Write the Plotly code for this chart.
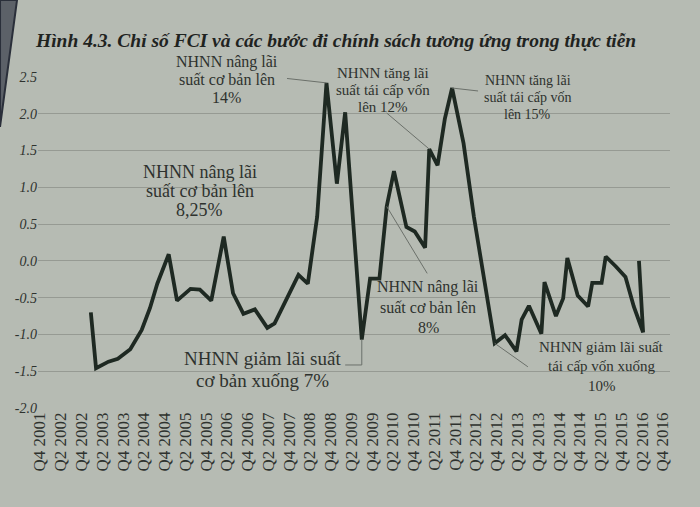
import plotly.graph_objects as go

# ---------------- data ----------------
# position along the quarterly axis (0 = Q4 2001, 1 unit = one quarter)
period_pos = [4.9, 5.4, 6.6, 7.5, 8.7, 9.8, 10.6, 11.3, 12.4, 13.2,
              14.5, 15.4, 16.5, 17.7, 18.6, 19.6, 20.7, 21.9, 22.6, 23.8,
              24.9, 25.8, 26.7, 27.6, 28.6, 29.4, 31.0, 31.8, 32.7, 33.4,
              34.1, 35.3, 36.1, 37.1, 37.5, 38.3, 39.0, 39.7, 40.8, 41.8,
              42.8, 43.8, 44.8, 45.9, 46.4, 47.1, 48.3, 48.6, 49.7, 50.4,
              50.8, 51.8, 52.8, 53.2, 54.1, 54.5, 55.5, 56.4, 57.2, 58.1, 57.7]
fci = [-0.70, -1.46, -1.37, -1.33, -1.20, -0.94, -0.64, -0.31, 0.09, -0.54,
       -0.38, -0.39, -0.54, 0.33, -0.44, -0.72, -0.66, -0.91, -0.85, -0.51,
       -0.19, -0.31, 0.60, 2.42, 1.05, 2.02, -1.07, -0.24, -0.24, 0.74,
       1.22, 0.46, 0.40, 0.18, 1.52, 1.30, 1.93, 2.35, 1.60, 0.60,
       -0.26, -1.12, -1.01, -1.23, -0.80, -0.61, -0.99, -0.29, -0.75, -0.51,
       0.04, -0.47, -0.62, -0.30, -0.30, 0.06, -0.08, -0.22, -0.62, -0.97, 0.00]

x_tick_pos = list(range(0, 61, 2))
x_tick_labels = ["Q4 2001", "Q2 2002", "Q4 2002", "Q2 2003", "Q4 2003", "Q2 2004",
                 "Q4 2004", "Q2 2005", "Q4 2005", "Q2 2006", "Q4 2006", "Q2 2007",
                 "Q4 2007", "Q2 2008", "Q4 2008", "Q2 2009", "Q4 2009", "Q2 2010",
                 "Q4 2010", "Q2 2011", "Q4 2011", "Q2 2012", "Q4 2012", "Q2 2013",
                 "Q4 2013", "Q2 2014", "Q4 2014", "Q2 2015", "Q4 2015", "Q2 2016",
                 "Q4 2016"]
y_tick_vals = [-2.0, -1.5, -1.0, -0.5, 0.0, 0.5, 1.0, 1.5, 2.0, 2.5]
y_tick_labels = ["-2.0", "-1.5", "-1.0", "-0.5", "0.0", "0.5", "1.0", "1.5", "2.0", "2.5"]

title_text = "Hình 4.3. Chỉ số FCI và các bước đi chính sách tương ứng trong thực tiễn"

# annotation texts: (lines, x centre, y of first line, line spacing px, font size)
notes = [
    (["NHNN nâng lãi", "suất cơ bản lên", "14%"], 18.0, 2.70, 17.5, 16),
    (["NHNN nâng lãi", "suất cơ bản lên", "8,25%"], 15.4, 1.21, 19, 18),
    (["NHNN giảm lãi suất", "cơ bản xuống 7%"], 21.4, -1.33, 22, 19),
    (["NHNN tăng lãi", "suất tái cấp vốn", "lên 12%"], 33.0, 2.56, 17, 15),
    (["NHNN tăng lãi", "suất tái cấp vốn", "lên 15%"], 47.0, 2.45, 17, 14),
    (["NHNN nâng lãi", "suất cơ bản lên", "8%"], 37.4, -0.36, 20, 16),
    (["NHNN giảm lãi suất", "tái cấp vốn xuống", "10%"], 54.1, -1.17, 19.5, 15),
]
# leader lines: list of (x, y) vertices in data units
leaders = [
    [(23.8, 2.48), (period_pos[23], fci[23])],
    [(period_pos[26], fci[26]), (period_pos[26], -1.415), (29.4, -1.415)],
    [(33.4, 2.01), (period_pos[34], fci[34])],
    [(period_pos[37], fci[37]), (42.2, 2.31)],
    [(period_pos[29], fci[29]), (37.3, -0.17)],
    [(period_pos[41], fci[41]), (47.0, -1.44)],
]

# ---------------- style ----------------
BG = "#b6bbb3"
INK = "#1e2922"
TXT = "#2e322e"
SERIF = "Liberation Serif"
W, H = 700, 507
M_L, M_R, M_T, M_B = 38, 30, 77, 99
Y_MIN, Y_MAX = -2.0, 2.5
PX_PER_UNIT = (H - M_T - M_B) / (Y_MAX - Y_MIN)

fig = go.Figure()
fig.add_trace(go.Scatter(
    x=period_pos, y=fci, mode="lines",
    line=dict(color=INK, width=3.8), hoverinfo="skip", showlegend=False,
))

for lines, xc, ytop, sp, size in notes:
    for i, t in enumerate(lines):
        # anchor inside the axis range, shift in pixels so text above the range still shows
        anchor = min(ytop, Y_MAX)
        shift = (ytop - anchor) * PX_PER_UNIT - i * sp
        fig.add_annotation(x=xc, y=anchor, xref="x", yref="y", text=t,
                           showarrow=False, xanchor="center", yanchor="middle",
                           yshift=shift,
                           font=dict(family=SERIF, size=size, color=TXT))

for pts in leaders:
    path = "M " + " L ".join(f"{x},{y}" for x, y in pts)
    fig.add_shape(type="path", path=path, xref="x", yref="y",
                  line=dict(color="#6b706a", width=1))

# dark page edge at the top-left corner of the photo
fig.add_shape(type="path", xref="paper", yref="paper",
              path="M -0.0601,1.2326 L -0.0332,1.2326 L -0.0601,0.849 Z",
              fillcolor="#5c6168", line=dict(color="#2a2f3a", width=2), layer="above")

fig.update_layout(
    width=W, height=H,
    margin=dict(l=M_L, r=M_R, t=M_T, b=M_B),
    paper_bgcolor=BG, plot_bgcolor=BG,
    title=dict(text="<b><i>" + title_text + "</i></b>",
               xref="container", yref="container",
               x=36 / W, xanchor="left", y=1 - 40 / H, yanchor="middle",
               font=dict(family=SERIF, size=19.5, color="#1f231f")),
    xaxis=dict(range=[-0.19, 60.69], tickmode="array", tickvals=x_tick_pos,
               ticktext=x_tick_labels, tickangle=-90, showgrid=False,
               zeroline=False, showline=False, ticks="",
               tickfont=dict(family=SERIF, size=17, color=TXT)),
    yaxis=dict(range=[Y_MIN, Y_MAX], tickmode="array", tickvals=y_tick_vals,
               ticktext=y_tick_labels, showgrid=True,
               gridcolor="rgba(110,116,108,0.45)", gridwidth=1,
               zeroline=False, showline=False, ticks="",
               tickfont=dict(family=SERIF, size=14, color=TXT, style="italic")),
)

fig.write_html("out.html",
               config={"displayModeBar": False},
               post_script="document.body.style.margin='0';"
                           "document.body.style.background='" + BG + "';")
